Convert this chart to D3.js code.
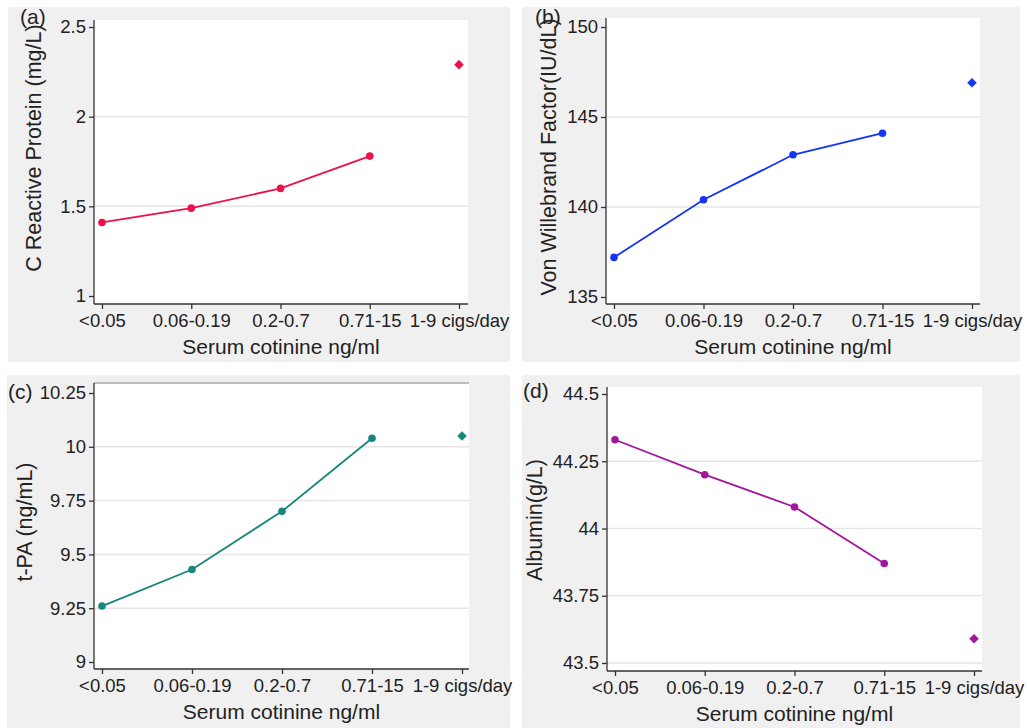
<!DOCTYPE html>
<html>
<head>
<meta charset="utf-8">
<script src="https://cdn.jsdelivr.net/npm/d3@7"></script>
<style>
  body { margin: 0; background: #fff; }
  svg { display: block; font-family: "Liberation Sans", Arial, sans-serif; }
</style>
</head>
<body>
<div id="chart"></div>
<script>
// categories on every x axis
const categories = ["<0.05", "0.06-0.19", "0.2-0.7", "0.71-15", "1-9 cigs/day"]

// values for the four cotinine groups, then the smokers diamond
const crpValues = [1.41, 1.49, 1.60, 1.78]
const crpSmokers = 2.29
const vwfValues = [137.2, 140.4, 142.9, 144.1]
const vwfSmokers = 146.9
const tpaValues = [9.26, 9.43, 9.70, 10.04]
const tpaSmokers = 10.05
const albValues = [44.33, 44.20, 44.08, 43.87]
const albSmokers = 43.59

// tick labels
const crpTicks = [1, 1.5, 2, 2.5]
const vwfTicks = [135, 140, 145, 150]
const tpaTicks = [9, 9.25, 9.5, 9.75, 10, 10.25]
const albTicks = [43.5, 43.75, 44, 44.25, 44.5]

const xTitle = "Serum cotinine ng/ml"

const panels = [
  {
    tag: "(a)", title: "C Reactive Protein (mg/L)", color: "#ec1148",
    values: crpValues, smokers: crpSmokers, ticks: crpTicks, grid: [1.5, 2],
    bg: [8, 7, 502, 355], plot: [94, 20, 468, 304],
    yRange: [296, 27], xRange: [102, 459],
    tagPos: [20, 24], titlePos: [41, 148],
  },
  {
    tag: "(b)", title: "Von Willebrand Factor(IU/dL)", color: "#1436f2",
    values: vwfValues, smokers: vwfSmokers, ticks: vwfTicks, grid: [140, 145],
    bg: [522, 7, 498, 355], plot: [606, 18, 980, 304],
    yRange: [297, 27], xRange: [614, 972],
    tagPos: [535, 24], titlePos: [556, 157],
  },
  {
    tag: "(c)", title: "t-PA (ng/mL)", color: "#17877b",
    values: tpaValues, smokers: tpaSmokers, ticks: tpaTicks, grid: [9.25, 9.5, 9.75, 10],
    bg: [7, 375, 503, 353], plot: [94, 383, 469, 669],
    yRange: [662, 393], xRange: [102, 462],
    tagPos: [8, 399], titlePos: [32, 522], topLine: true,
  },
  {
    tag: "(d)", title: "Albumin(g/L)", color: "#a3179c",
    values: albValues, smokers: albSmokers, ticks: albTicks, grid: [43.5, 43.75, 44, 44.25],
    bg: [522, 375, 498, 353], plot: [607, 387, 982, 671],
    yRange: [663, 394], xRange: [615, 974],
    tagPos: [523, 398], titlePos: [542, 520],
  },
]

const svg = d3.select("#chart")
  .append("svg")
  .attr("width", 1027)
  .attr("height", 728)

function drawPanel(p) {
  const g = svg.append("g")
  const [left, top, right, bottom] = p.plot

  g.append("rect")
    .attr("x", p.bg[0]).attr("y", p.bg[1])
    .attr("width", p.bg[2]).attr("height", p.bg[3])
    .attr("fill", "#f0f0f0")

  g.append("rect")
    .attr("x", left).attr("y", top)
    .attr("width", right - left).attr("height", bottom - top)
    .attr("fill", "#fff")

  const x = d3.scalePoint().domain(categories).range(p.xRange)
  const y = d3.scaleLinear()
    .domain([p.ticks[0], p.ticks[p.ticks.length - 1]])
    .range(p.yRange)

  // horizontal grid
  g.selectAll(".grid")
    .data(p.grid)
    .join("line")
    .attr("x1", left).attr("x2", right)
    .attr("y1", d => y(d)).attr("y2", d => y(d))
    .attr("stroke", "#e6e6e6")
    .attr("stroke-width", 1.5)

  if (p.topLine) {
    g.append("line")
      .attr("x1", left).attr("x2", right)
      .attr("y1", top).attr("y2", top)
      .attr("stroke", "#a8a8a8")
      .attr("stroke-width", 1.5)
  }

  // axes
  const yAxis = g.append("g")
    .attr("transform", `translate(${left},0)`)
    .call(d3.axisLeft(y).tickValues(p.ticks).tickSize(5).tickPadding(3).tickFormat(d3.format("")))
  yAxis.select(".domain").attr("d", `M0,${top}V${bottom}`)

  const xAxis = g.append("g")
    .attr("transform", `translate(0,${bottom})`)
    .call(d3.axisBottom(x).tickSize(5).tickPadding(5))
  xAxis.select(".domain").attr("d", `M${left},0H${right}`)

  g.selectAll(".tick text")
    .attr("font-size", 18.5)
    .attr("fill", "#222")
    .attr("font-family", "Liberation Sans, Arial, sans-serif")
  g.selectAll(".domain, .tick line")
    .attr("stroke", "#333")
    .attr("stroke-width", 1.3)

  // line through cotinine groups
  const line = d3.line()
    .x((d, i) => x(categories[i]))
    .y(d => y(d))

  g.append("path")
    .datum(p.values)
    .attr("d", line)
    .attr("fill", "none")
    .attr("stroke", p.color)
    .attr("stroke-width", 1.8)

  g.selectAll(".pt")
    .data(p.values)
    .join("circle")
    .attr("cx", (d, i) => x(categories[i]))
    .attr("cy", d => y(d))
    .attr("r", 3.8)
    .attr("fill", p.color)

  g.append("path")
    .attr("d", d3.symbol(d3.symbolSquare, 46)())
    .attr("transform", `translate(${x(categories[4])},${y(p.smokers)}) rotate(45)`)
    .attr("fill", p.color)

  // titles
  g.append("text")
    .attr("x", (left + right) / 2)
    .attr("y", bottom + 50)
    .attr("text-anchor", "middle")
    .attr("font-size", 21)
    .attr("fill", "#222")
    .text(xTitle)

  g.append("text")
    .attr("transform", `translate(${p.titlePos[0]},${p.titlePos[1]}) rotate(-90)`)
    .attr("text-anchor", "middle")
    .attr("font-size", 21.5)
    .attr("fill", "#222")
    .text(p.title)

  g.append("text")
    .attr("x", p.tagPos[0]).attr("y", p.tagPos[1])
    .attr("font-size", 21)
    .attr("fill", "#222")
    .text(p.tag)
}

panels.forEach(drawPanel)
</script>
</body>
</html>
